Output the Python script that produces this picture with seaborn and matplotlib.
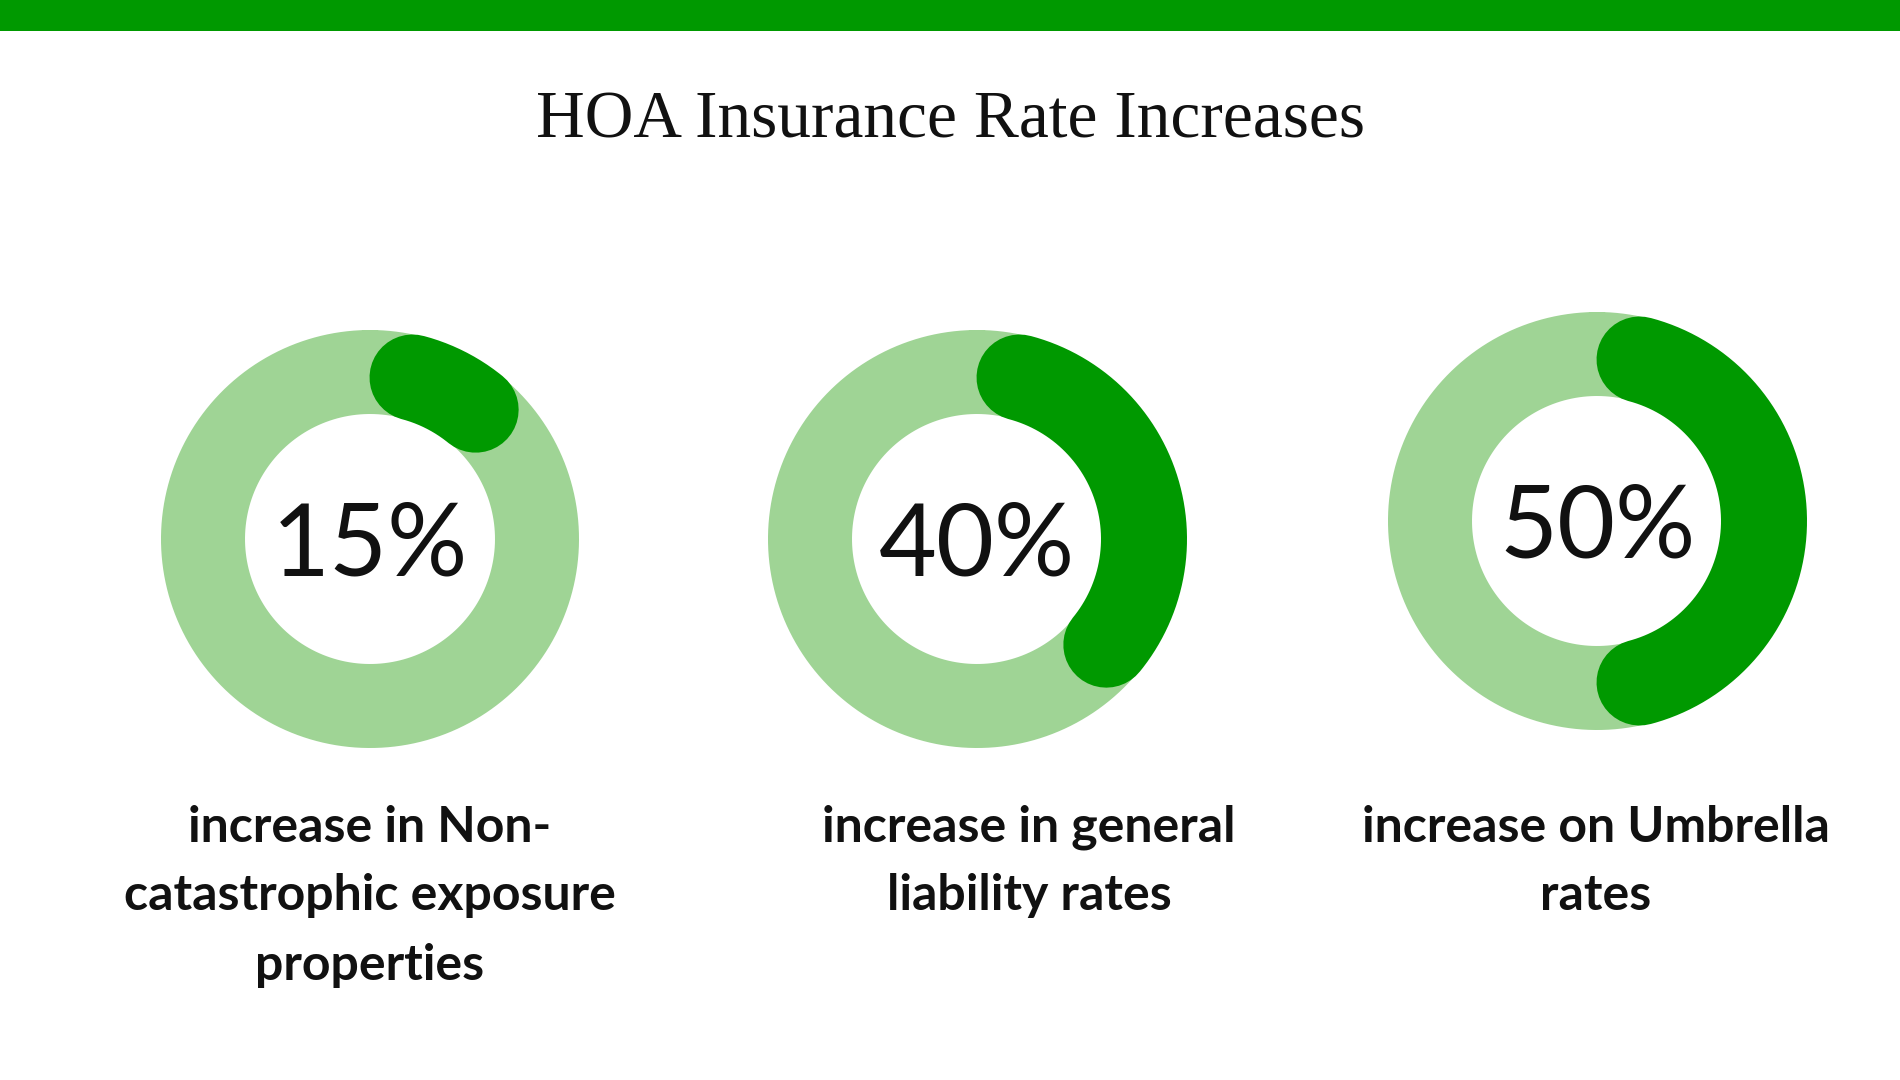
import numpy as np
import pandas as pd
import matplotlib
matplotlib.use("Agg")
import matplotlib.pyplot as plt
import seaborn as sns

# ---- data ----
values = [15, 40, 50]
value_texts = ["15%", "40%", "50%"]
labels = [
    ["increase in Non-", "catastrophic exposure", "properties"],
    ["increase in general", "liability rates"],
    ["increase on Umbrella", "rates"],
]
title = "HOA Insurance Rate Increases"

# ---- style ----
sns.set_theme(style="white")
plt.rcParams["font.family"] = ["Lato", "DejaVu Sans"]

DARK = "#009900"
LIGHT = "#9FD495"
W, H = 1900, 1080

fig = plt.figure(figsize=(W / 100, H / 100), dpi=100)
fig.patch.set_facecolor("white")

# top green band
band = fig.add_axes([0, 1 - 31 / H, 1, 31 / H])
band.set_facecolor(DARK)
band.set_xticks([]); band.set_yticks([])
for s in band.spines.values():
    s.set_visible(False)

fig.text(950 / W, 1 - 121 / H, title, ha="center", va="center",
         fontsize=48.5, family=["Liberation Serif", "DejaVu Serif"], color="#111111")

# layout (pixels)
donut_centers = [(370, 539), (977, 539), (1597, 521)]
label_x = [370, 1029, 1596]
label_y0 = 827
line_gap = 69
ring_mid = 167
ring_w = 84
arc_mid = 167
arc_w = 86
box = 520
pt = 72 / 100  # points per pixel

for i, (v, (cx, cy)) in enumerate(zip(values, donut_centers)):
    ax = fig.add_axes([(cx - box / 2) / W, 1 - (cy + box / 2) / H, box / W, box / H])
    ax.set_xlim(-box / 2, box / 2)
    ax.set_ylim(-box / 2, box / 2)
    ax.set_aspect("equal")
    ax.axis("off")

    th = np.linspace(0, 2 * np.pi, 400)
    ring = pd.DataFrame({"x": ring_mid * np.sin(th), "y": ring_mid * np.cos(th)})
    sns.lineplot(data=ring, x="x", y="y", sort=False, estimator=None, ax=ax,
                 color=LIGHT, linewidth=ring_w * pt, legend=False)

    cap = (arc_w / 2) / arc_mid
    end = v / 100 * 2 * np.pi - cap
    ta = np.linspace(cap, end, 300)
    arc = pd.DataFrame({"x": arc_mid * np.sin(ta), "y": arc_mid * np.cos(ta)})
    sns.lineplot(data=arc, x="x", y="y", sort=False, estimator=None, ax=ax,
                 color=DARK, linewidth=arc_w * pt, legend=False,
                 solid_capstyle="round")

    ax.text(0, 0, value_texts[i], ha="center", va="center_baseline",
            fontsize=72, color="#111111", family=["Lato", "DejaVu Sans"])

    for j, line in enumerate(labels[i]):
        fig.text(label_x[i] / W, 1 - (label_y0 + j * line_gap) / H, line,
                 ha="center", va="center", fontsize=36, fontweight="bold",
                 color="#111111", family=["Lato", "DejaVu Sans"])

fig.savefig("out.png", dpi=100, facecolor="white")
